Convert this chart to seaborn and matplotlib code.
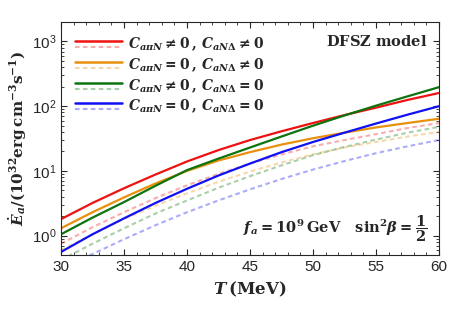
import numpy as np
import pandas as pd
import seaborn as sns
import matplotlib
matplotlib.use("Agg")
import matplotlib.pyplot as plt
from matplotlib.lines import Line2D
from matplotlib.legend_handler import HandlerBase
from matplotlib.ticker import MultipleLocator, LogLocator, NullFormatter

# temperature grid (MeV) and emissivities in 1e32 erg cm^-3 s^-1
T = [30, 32.5, 35, 37.5, 40, 42.5, 45, 47.5, 50, 52.5, 55, 57.5, 60]

red_full = [1.8, 3.2, 5.4, 8.8, 14, 21, 30, 41, 55, 73, 95, 125, 160]
orange_full = [1.3, 2.3, 3.9, 6.4, 10, 14.5, 19.5, 25.5, 32, 39, 47, 55, 64]
green_full = [1.05, 1.9, 3.3, 5.9, 10.3, 15.5, 23, 34, 50, 72, 102, 142, 197]
blue_full = [0.56, 1.05, 1.85, 3.2, 5.3, 8.5, 13, 19.5, 28, 39, 54, 74, 100]

red_dash = [0.75, 1.35, 2.3, 3.8, 6.0, 9.0, 13, 18, 24, 30, 37, 46, 55]
orange_dash = [0.6, 1.05, 1.8, 2.9, 4.5, 6.8, 9.8, 13.5, 18, 23, 28, 34, 40]
green_dash = [0.42, 0.75, 1.3, 2.2, 3.5, 5.5, 8.3, 12.2, 17.5, 23.5, 30.5, 39, 48]
blue_dash = [0.3, 0.52, 0.88, 1.45, 2.3, 3.5, 5.2, 7.5, 10.5, 14.2, 18.8, 24, 30]

labels = [r"$C_{a\pi N}\neq 0\,,\,C_{aN\Delta}\neq 0$",
          r"$C_{a\pi N}=0\,,\,C_{aN\Delta}\neq 0$",
          r"$C_{a\pi N}\neq 0\,,\,C_{aN\Delta}=0$",
          r"$C_{a\pi N}=0\,,\,C_{aN\Delta}=0$"]
colors = ["#ee1111", "#e8900c", "#0d730d", "#1010f5"]

sns.set_style("ticks")
plt.rcParams["font.family"] = ["Liberation Sans", "DejaVu Sans"]
plt.rcParams["mathtext.fontset"] = "custom"
plt.rcParams["mathtext.rm"] = "DejaVu Serif:bold"
plt.rcParams["mathtext.bf"] = "DejaVu Serif:bold"
plt.rcParams["mathtext.it"] = "DejaVu Serif:italic:bold"
plt.rcParams["mathtext.cal"] = "DejaVu Serif:italic:bold"


class SolidDashedHandler(HandlerBase):
    # legend entry: solid line on top, faded dashed line just below
    def create_artists(self, legend, orig, xd, yd, w, h, fs, trans):
        solid, dashed = orig
        x = [-xd, -xd + w]
        l1 = Line2D(x, [-yd + h * 0.75] * 2, color=solid.get_color(), lw=1.8)
        l2 = Line2D(x, [-yd + h * 0.15] * 2, color=dashed.get_color(), lw=1.5,
                    ls=(0, (2.2, 1.6)), alpha=0.35)
        l1.set_transform(trans)
        l2.set_transform(trans)
        return [l1, l2]


fig = plt.figure(figsize=(4.5, 3.1), dpi=100)
ax = fig.add_axes([0.1356, 0.177, 0.8400, 0.752])

full = [red_full, orange_full, green_full, blue_full]
dash = [red_dash, orange_dash, green_dash, blue_dash]

for c, yd in zip(colors, dash):
    sns.lineplot(x=T, y=yd, ax=ax, color=c, lw=1.5, alpha=0.35,
                 dashes=False, linestyle=(0, (2.2, 1.6)))
handles = []
for c, yf, yd in zip(colors, full, dash):
    sns.lineplot(x=T, y=yf, ax=ax, color=c, lw=1.6)
    h_s = Line2D([], [], color=c)
    h_d = Line2D([], [], color=c)
    handles.append((h_s, h_d))

ax.set_yscale("log")
ax.set_xlim(30, 60)
ax.set_ylim(0.5, 2000)

ax.xaxis.set_major_locator(MultipleLocator(5))
ax.xaxis.set_minor_locator(MultipleLocator(1))
ax.yaxis.set_major_locator(LogLocator(base=10, numticks=10))
ax.yaxis.set_minor_locator(LogLocator(base=10, subs=np.arange(2, 10), numticks=20))
ax.yaxis.set_minor_formatter(NullFormatter())
ax.tick_params(which="both", direction="in", top=True, right=True, labelsize=11)
ax.tick_params(which="major", length=4, width=0.8)
ax.tick_params(which="minor", length=2, width=0.6)
for s in ax.spines.values():
    s.set_linewidth(0.8)

ax.set_xlabel(r"$T\,(\mathrm{MeV})$", fontsize=12, labelpad=4)
ax.set_ylabel(r"$\dot{\mathcal{E}}_a/(10^{32}\mathrm{erg\,cm^{-3}s^{-1}})$", fontsize=11, labelpad=2)

leg = ax.legend(handles, labels, handler_map={tuple: SolidDashedHandler()},
                loc="upper left", bbox_to_anchor=(0.0, 1.0), frameon=False,
                fontsize=10, handlelength=3.4, handletextpad=0.4, labelspacing=0.22,
                borderaxespad=0.6)

ax.text(0.97, 0.915, r"$\mathrm{DFSZ\ model}$", transform=ax.transAxes,
        ha="right", va="center", fontsize=10.5)
ax.text(0.97, 0.115, r"$f_a=10^9\,\mathrm{GeV}\quad \mathrm{sin}^2\beta=\dfrac{1}{2}$",
        transform=ax.transAxes, ha="right", va="center", fontsize=10.5)

fig.savefig("out.png", dpi=100)
